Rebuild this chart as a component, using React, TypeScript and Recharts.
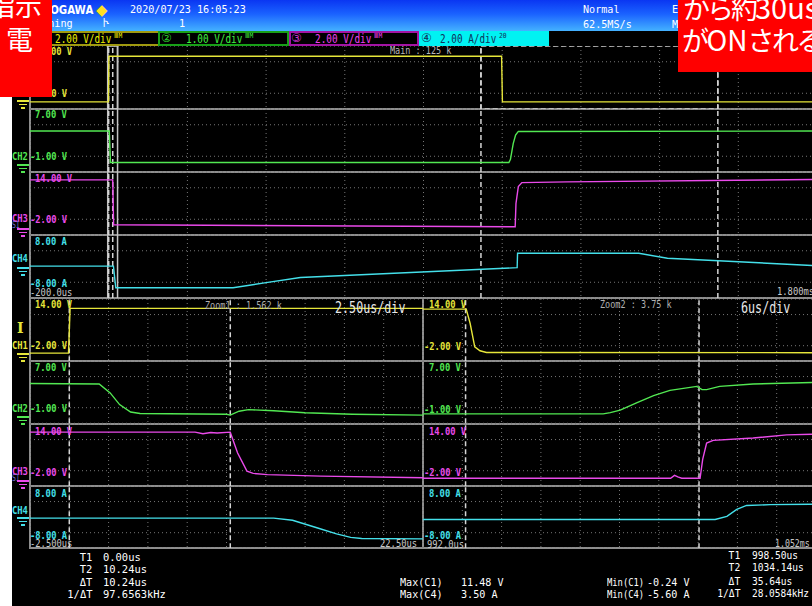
import React from 'react';
import { LineChart, Line, XAxis, YAxis, CartesianGrid, ReferenceLine, ReferenceArea } from 'recharts';

const MONO = '"DejaVu Sans Mono", "Liberation Mono", monospace';
const CJK = '"Noto Sans CJK JP", "Noto Sans", sans-serif';

// ---------- Main window (time in us) ----------
const mainT1 = [-200, -0.5, 0.5, 998.5, 1000.5, 1800];
const mainCh1 = [-0.2, -0.2, 11.4, 11.4, -0.2, -0.2];
const mainT2 = [-200, 1.5, 4.5, 1017, 1021, 1028, 1034, 1041, 1800];
const mainCh2 = [4.2, 4.2, 0.2, 0.2, 0.6, 2.6, 3.7, 4.15, 4.2];
const mainT3 = [-200, 10.2, 12.5, 500, 1033, 1035, 1041, 1050, 1165, 1800];
const mainCh3 = [12.0, 12.0, 0.6, 0.35, 0.1, 6, 10.3, 11.3, 11.5, 12.1];
const mainT4 = [-200, 12, 18, 316, 400, 487, 1038, 1039, 1347, 1420, 1800];
const mainCh4 = [0.1, 0.1, -5.4, -5.4, -4.1, -2.8, -0.3, 3.35, 3.35, 2.1, 0.2];

// ---------- Zoom1 window ----------
const z1T1 = [-2.5, -0.05, 0.05, 22.5];
const z1Ch1 = [0.1, 0.1, 11.6, 11.6];
const z1T2 = [-2.5, 1.9, 2.6, 3.2, 3.9, 4.5, 10.0, 10.24, 10.8, 11.4, 13, 15, 18, 22.5];
const z1Ch2 = [4.1, 4.05, 2.9, 1.4, 0.45, 0.25, 0.15, 0.05, 0.55, 0.75, 0.6, 0.35, 0.15, 0.05];
const z1T3 = [-2.5, 8.0, 8.5, 9.0, 9.4, 10.24, 10.7, 11.3, 11.7, 12.6, 16, 22.5];
const z1Ch3 = [11.9, 11.9, 11.5, 11.8, 11.7, 11.9, 6.6, 1.9, 1.3, 1.0, 0.6, 0.2];
const z1T4 = [-2.5, 13.0, 14.2, 15.8, 17.0, 17.9, 18.6, 22.5];
const z1Ch4 = [-0.25, -0.25, -0.8, -2.8, -4.3, -5.2, -5.5, -5.6];

// ---------- Zoom2 window ----------
const z2T1 = [992, 998.6, 999.2, 999.9, 1000.7, 1001.7, 1052];
const z2Ch1 = [11.4, 11.4, 7.7, 1.7, 0.7, 0.25, 0.2];
const z2T2 = [992, 1019.5, 1020.6, 1022.1, 1024.6, 1027.2, 1029.7, 1033.8, 1034.6, 1035.3, 1037.3, 1042.4, 1052];
const z2Ch2 = [0.2, 0.2, 0.36, 0.69, 1.63, 2.56, 3.23, 3.74, 3.32, 3.32, 3.74, 4.04, 4.25];
const z2T3 = [992, 1029.8, 1030.4, 1030.9, 1031.5, 1034.3, 1034.7, 1035.3, 1036.3, 1042.4, 1047.5, 1052];
const z2Ch3 = [0.05, 0.05, 0.8, 0.4, 0.05, 0.05, 4.9, 9.1, 9.8, 10.4, 11.2, 11.4];
const z2T4 = [992, 1036.6, 1038.4, 1039.9, 1041.4, 1045, 1052];
const z2Ch4 = [-0.6, -0.6, 0.2, 2.0, 3.0, 3.2, 3.3];

// ---------- axes ----------
const mainDomain = [-200, 1800];
const mainTicks = [0, 200, 400, 600, 800, 1000, 1200, 1400, 1600];
const z1Domain = [-2.5, 22.5];
const z1Ticks = [0, 2.5, 5, 7.5, 10, 12.5, 15, 17.5, 20];
const z2Domain = [992, 1052];
const z2Ticks = [998, 1004, 1010, 1016, 1022, 1028, 1034, 1040, 1046];

const ch1Ticks = [2, 6, 10];
const ch2Ticks = [1, 3, 5];
const ch3Ticks = [2, 6, 10];
const ch4Ticks = [-4, 0, 4];

const CHANNELS = [
  { id: 'CH1', color: '#e6e63a', range: [-2, 14], ticks: ch1Ticks },
  { id: 'CH2', color: '#52e852', range: [-1, 7], ticks: ch2Ticks },
  { id: 'CH3', color: '#ea4aea', range: [-2, 14], ticks: ch3Ticks },
  { id: 'CH4', color: '#44e0ea', range: [-8, 8], ticks: ch4Ticks },
];

const zip = (ts: number[], vs: number[]) => ts.map((t, i) => ({ t, v: vs[i] }));

const mainSeries = [zip(mainT1, mainCh1), zip(mainT2, mainCh2), zip(mainT3, mainCh3), zip(mainT4, mainCh4)];
const z1Series = [zip(z1T1, z1Ch1), zip(z1T2, z1Ch2), zip(z1T3, z1Ch3), zip(z1T4, z1Ch4)];
const z2Series = [zip(z2T1, z2Ch1), zip(z2T2, z2Ch2), zip(z2T3, z2Ch3), zip(z2T4, z2Ch4)];

// cursors
const mainSolid = [-2.5, 22.5];
const mainDashed = [0, 10.24, 946, 1548];
const z1Dashed = [0, 10.24];
const z2Dashed = [998.5, 1034.14];

type PanelProps = {
  left: number; top: number; width: number; height: number;
  domain: number[]; xTicks: number[]; series: { t: number; v: number }[][];
  solid?: number[]; dashed?: number[]; areas?: { x1: number; x2: number; dash: boolean }[];
};

function Panel({ left, top, width, height, domain, xTicks, series, solid = [], dashed = [], areas = [] }: PanelProps) {
  const rh = height / 4;
  return (
    <div style={{ position: 'absolute', left, top, width, height }}>
      {CHANNELS.map((ch, i) => (
        <div key={ch.id} style={{ position: 'absolute', left: 0, top: i * rh, width, height: rh }}>
          <LineChart width={width} height={rh} margin={{ top: 0, right: 0, bottom: 0, left: 0 }}>
            <CartesianGrid stroke="#767676" strokeWidth={1} strokeDasharray="1 3" />
            <XAxis type="number" dataKey="t" domain={domain} ticks={xTicks} hide allowDataOverflow />
            <YAxis type="number" dataKey="v" domain={ch.range} ticks={ch.ticks} hide allowDataOverflow />
            {i === 0 && areas.map((a) => (
              <ReferenceArea key={'a' + a.x1} x1={a.x1} x2={a.x2} fill="none" fillOpacity={0}
                stroke="#d0d0d0" strokeWidth={1.5} strokeDasharray={a.dash ? '5 3' : undefined} />
            ))}
            {solid.map((x) => <ReferenceLine key={'s' + x} x={x} stroke="#c4c4c4" strokeWidth={1.5} />)}
            {dashed.map((x) => <ReferenceLine key={'d' + x} x={x} stroke="#d4d4d4" strokeWidth={1.5} strokeDasharray="5 3" />)}
            <Line data={series[i]} dataKey="v" type="linear" stroke={ch.color} strokeWidth={1.4}
              dot={false} isAnimationActive={false} />
          </LineChart>
        </div>
      ))}
    </div>
  );
}

type TxtProps = { x: number; cy: number; children: React.ReactNode; color?: string; size?: number; sx?: number; right?: boolean; font?: string; bold?: boolean };
function Txt({ x, cy, children, color = '#fff', size = 11, sx = 0.8, right = false, font = MONO, bold = false }: TxtProps) {
  const pos: React.CSSProperties = right ? { right: 812 - x } : { left: x };
  return (
    <div style={{
      position: 'absolute', ...pos, top: cy - size * 0.5, fontFamily: font, fontSize: size,
      lineHeight: `${size}px`, color, whiteSpace: 'pre', transform: `scaleX(${sx})`,
      transformOrigin: right ? 'right center' : 'left center', fontWeight: bold ? 700 : 400,
    }}>{children}</div>
  );
}

function Ground({ x, y, color }: { x: number; y: number; color: string }) {
  return (
    <div style={{ position: 'absolute', left: x, top: y, width: 12, height: 9 }}>
      <div style={{ position: 'absolute', left: 0, top: 0, width: 12, height: 1.5, background: color }} />
      <div style={{ position: 'absolute', left: 2, top: 3.5, width: 8, height: 1.5, background: color }} />
      <div style={{ position: 'absolute', left: 4, top: 7, width: 4, height: 1.5, background: color }} />
    </div>
  );
}

const Y = '#e6e63a', G = '#52e852', M = '#ea4aea', C = '#44e0ea', GR = '#c8c8c8';

function HLine({ x, y, w, color = '#8e8e8e', h = 2 }: { x: number; y: number; w: number; color?: string; h?: number }) {
  return <div style={{ position: 'absolute', left: x, top: y, width: w, height: h, background: color }} />;
}
function VLine({ x, y, h, color = '#8e8e8e', w = 2 }: { x: number; y: number; h: number; color?: string; w?: number }) {
  return <div style={{ position: 'absolute', left: x, top: y, width: w, height: h, background: color }} />;
}

const redText: React.CSSProperties = {
  position: 'absolute', fontFamily: CJK, fontSize: 27, lineHeight: '27px', color: '#fff',
  whiteSpace: 'pre',
};

export default function App() {
  return (
    <div style={{ position: 'absolute', left: 0, top: 0, width: 812, height: 606, background: '#000', overflow: 'hidden' }}>
      {/* left white strip */}
      <div style={{ position: 'absolute', left: 0, top: 0, width: 12, height: 606, background: '#fff' }} />
      {/* top bar */}
      <div style={{ position: 'absolute', left: 0, top: 0, width: 812, height: 31, background: 'linear-gradient(to bottom, #0a36f2 0%, #1a62ff 45%, #44b2ff 100%)' }} />
      <Txt x={27} cy={10} size={12} sx={0.85} bold font={'"DejaVu Sans", sans-serif'}>YOKOGAWA</Txt>
      <Txt x={96} cy={10} size={15} sx={1} color="#ffe020" font={'"DejaVu Sans", sans-serif'}>◆</Txt>
      <Txt x={130} cy={9} size={11} sx={0.92}>2020/07/23 16:05:23</Txt>
      <Txt x={30} cy={23} size={11} sx={0.92}>Running</Txt>
      <Txt x={103} cy={23} size={11} sx={0.92}>Ⴡ</Txt>
      <Txt x={179} cy={23} size={11} sx={0.92}>1</Txt>
      <Txt x={583} cy={9} size={11} sx={0.92}>Normal</Txt>
      <Txt x={583} cy={24} size={11} sx={0.92}>62.5MS/s</Txt>
      <Txt x={672} cy={9} size={11} sx={0.92}>E</Txt>
      <Txt x={672} cy={24} size={11} sx={0.92}>M</Txt>

      {/* channel bar */}
      <div style={{ position: 'absolute', left: 0, top: 31, width: 812, height: 14, background: '#000' }} />
      <div style={{ position: 'absolute', left: -4, top: 31, width: 160, height: 11, border: '2px solid #a09a10' }} />
      <div style={{ position: 'absolute', left: 158, top: 31, width: 127, height: 11, border: '2px solid #18a018' }} />
      <div style={{ position: 'absolute', left: 289, top: 31, width: 126, height: 11, border: '2px solid #a414a4' }} />
      <div style={{ position: 'absolute', left: 419, top: 31, width: 130, height: 15, background: '#00f2f2' }} />
      <Txt x={55} cy={38} size={13} sx={0.72} color="#f0f000">2.00 V/div</Txt>
      <Txt x={114} cy={36} size={7} sx={0.9} color="#f0f000">ⅢM</Txt>
      <Txt x={161} cy={38} size={12} sx={1} color="#2ed02e" font={'"DejaVu Sans", sans-serif'}>②</Txt>
      <Txt x={186} cy={38} size={13} sx={0.72} color="#40f040">1.00 V/div</Txt>
      <Txt x={245} cy={36} size={7} sx={0.9} color="#40f040">ⅢM</Txt>
      <Txt x={291} cy={38} size={12} sx={1} color="#d030d0" font={'"DejaVu Sans", sans-serif'}>③</Txt>
      <Txt x={315} cy={38} size={13} sx={0.72} color="#f040f0">2.00 V/div</Txt>
      <Txt x={374} cy={36} size={7} sx={0.9} color="#f040f0">ⅢM</Txt>
      <Txt x={421} cy={38} size={12} sx={1} color="#10305a" font={'"DejaVu Sans", sans-serif'}>④</Txt>
      <Txt x={440} cy={38} size={13} sx={0.72} color="#10305a">2.00 A/div</Txt>
      <Txt x={499} cy={36} size={7} sx={0.9} color="#10305a">20</Txt>

      {/* separators */}
      <HLine x={30} y={108} w={790} />
      <HLine x={30} y={171} w={790} />
      <HLine x={30} y={234} w={790} />
      <HLine x={30} y={297} w={790} />
      <HLine x={30} y={360} w={790} />
      <HLine x={30} y={423} w={790} />
      <HLine x={30} y={485} w={790} />
      <HLine x={30} y={547} w={790} />
      <VLine x={29} y={46} h={503} />
      <VLine x={422} y={299} h={249} />

      {/* charts */}
      <Panel left={30} top={46} width={787} height={252} domain={mainDomain} xTicks={mainTicks}
        series={mainSeries} solid={mainSolid} dashed={mainDashed}
        areas={[{ x1: -2.5, x2: 22.5, dash: false }, { x1: 946, x2: 1548, dash: true }]} />
      <Panel left={30} top={299} width={393} height={249} domain={z1Domain} xTicks={z1Ticks}
        series={z1Series} dashed={z1Dashed} />
      <Panel left={423} top={299} width={393} height={249} domain={z2Domain} xTicks={z2Ticks}
        series={z2Series} dashed={z2Dashed} />

      {/* main labels */}
      <Txt x={35} cy={51} color={Y} bold>14.00 V</Txt>
      <Txt x={30} cy={93} color={Y} bold>-2.00 V</Txt>
      <Ground x={17} y={100} color={Y} />
      <Txt x={35} cy={114} color={G} bold>7.00 V</Txt>
      <Txt x={12} cy={156} color={G} bold>CH2</Txt>
      <Txt x={30} cy={156} color={G} bold>-1.00 V</Txt>
      <Ground x={17} y={164} color={G} />
      <Txt x={35} cy={178} color={M} bold>14.00 V</Txt>
      <Txt x={12} cy={218} color={M} bold>CH3</Txt>
      <Txt x={30} cy={219} color={M} bold>-2.00 V</Txt>
      <Txt x={12} cy={226} color="#7070d0" size={8}>S1</Txt>
      <Ground x={17} y={228} color={M} />
      <Txt x={35} cy={241} color={C} bold>8.00 A</Txt>
      <Txt x={12} cy={258} color={C} bold>CH4</Txt>
      <Ground x={17} y={267} color={C} />
      <Txt x={30} cy={283} color={C} bold>-8.00 A</Txt>
      <Txt x={30} cy={292} color={GR}>-200.0us</Txt>
      <Txt x={777} cy={291} color={GR}>1.800ms</Txt>
      <Txt x={390} cy={51} color="#b8b8b8" size={10} sx={0.85}>Main : 125 k</Txt>

      {/* zoom1 labels */}
      <Txt x={35} cy={304} color={Y} bold>14.00 V</Txt>
      <Txt x={17} cy={328} color={Y} size={14} sx={1} bold font={'"DejaVu Serif", serif'}>I</Txt>
      <Txt x={12} cy={345} color={Y} bold>CH1</Txt>
      <Txt x={30} cy={345} color={Y} bold>-2.00 V</Txt>
      <Ground x={17} y={353} color={Y} />
      <Txt x={35} cy={367} color={G} bold>7.00 V</Txt>
      <Txt x={12} cy={408} color={G} bold>CH2</Txt>
      <Txt x={30} cy={408} color={G} bold>-1.00 V</Txt>
      <Ground x={17} y={416} color={G} />
      <Txt x={35} cy={431} color={M} bold>14.00 V</Txt>
      <Txt x={12} cy={471} color={M} bold>CH3</Txt>
      <Txt x={30} cy={472} color={M} bold>-2.00 V</Txt>
      <Txt x={12} cy={479} color="#7070d0" size={8}>S1</Txt>
      <Ground x={17} y={480} color={M} />
      <Txt x={35} cy={493} color={C} bold>8.00 A</Txt>
      <Txt x={12} cy={510} color={C} bold>CH4</Txt>
      <Ground x={17} y={517} color={C} />
      <Txt x={30} cy={535} color={C} bold>-8.00 A</Txt>
      <Txt x={30} cy={543} color={GR}>-2.500us</Txt>
      <Txt x={380} cy={543} color={GR}>22.50us</Txt>
      <Txt x={205} cy={306} color="#b0b0b0" size={10} sx={0.85}>Zoom1 : 1.562 k</Txt>
      <Txt x={335} cy={308} color="#e8e8e8" size={15} sx={0.78}>2.50us/div</Txt>

      {/* zoom2 labels */}
      <Txt x={429} cy={304} color={Y} bold>14.00 V</Txt>
      <Txt x={424} cy={346} color={Y} bold>-2.00 V</Txt>
      <Txt x={429} cy={367} color={G} bold>7.00 V</Txt>
      <Txt x={424} cy={409} color={G} bold>-1.00 V</Txt>
      <Txt x={429} cy={431} color={M} bold>14.00 V</Txt>
      <Txt x={424} cy={472} color={M} bold>-2.00 V</Txt>
      <Txt x={429} cy={493} color={C} bold>8.00 A</Txt>
      <Txt x={424} cy={535} color={C} bold>-8.00 A</Txt>
      <Txt x={427} cy={544} color={GR}>992.0us</Txt>
      <Txt x={775} cy={543} color={GR} sx={0.75}>1.052ms</Txt>
      <Txt x={600} cy={305} color="#b0b0b0" size={10} sx={0.85}>Zoom2 : 3.75 k</Txt>
      <Txt x={741} cy={308} color="#e8e8e8" size={15} sx={0.78}>6us/div</Txt>

      {/* measurements */}
      <Txt x={92} cy={557} right sx={0.95}>T1</Txt>
      <Txt x={92} cy={569} right sx={0.95}>T2</Txt>
      <Txt x={92} cy={582} right sx={0.95}>ΔT</Txt>
      <Txt x={92} cy={594} right sx={0.95}>1/ΔT</Txt>
      <Txt x={103} cy={557} sx={0.95}>0.00us</Txt>
      <Txt x={103} cy={569} sx={0.95}>10.24us</Txt>
      <Txt x={103} cy={582} sx={0.95}>10.24us</Txt>
      <Txt x={103} cy={594} sx={0.95}>97.6563kHz</Txt>
      <Txt x={400} cy={582} sx={0.92}>Max(C1)</Txt>
      <Txt x={400} cy={594} sx={0.92}>Max(C4)</Txt>
      <Txt x={461} cy={582} sx={0.92}>11.48 V</Txt>
      <Txt x={461} cy={594} sx={0.92}>3.50 A</Txt>
      <Txt x={607} cy={582} sx={0.8}>Min(C1)</Txt>
      <Txt x={607} cy={594} sx={0.8}>Min(C4)</Txt>
      <Txt x={647} cy={582} sx={0.92}>-0.24 V</Txt>
      <Txt x={647} cy={594} sx={0.92}>-5.60 A</Txt>
      <Txt x={740} cy={555} right sx={0.88}>T1</Txt>
      <Txt x={740} cy={567} right sx={0.88}>T2</Txt>
      <Txt x={740} cy={581} right sx={0.88}>ΔT</Txt>
      <Txt x={740} cy={593} right sx={0.88}>1/ΔT</Txt>
      <Txt x={752} cy={555} sx={0.87}>998.50us</Txt>
      <Txt x={752} cy={567} sx={0.87}>1034.14us</Txt>
      <Txt x={752} cy={581} sx={0.87}>35.64us</Txt>
      <Txt x={752} cy={593} sx={0.86}>28.0584kHz</Txt>

      {/* red annotation boxes */}
      <div style={{ position: 'absolute', left: 0, top: 0, width: 52, height: 97, background: '#ff0000', overflow: 'hidden' }}>
        <div style={{ ...redText, left: -12, top: -9 }}>指示</div>
        <div style={{ ...redText, left: 6, top: 25 }}>電</div>
      </div>
      <div style={{ position: 'absolute', left: 678, top: 0, width: 134, height: 72, background: '#ff0000', overflow: 'hidden' }}>
        <div style={{ ...redText, left: 5, top: -7 }}>
          <span style={{ letterSpacing: -3 }}>から約</span><span style={{ fontSize: 29 }}>30us</span>
        </div>
        <div style={{ ...redText, left: 4, top: 26 }}>
          <span style={{ letterSpacing: -2.5 }}>が</span><span style={{ fontSize: 28 }}>ON</span><span style={{ letterSpacing: -2.5 }}>される</span>
        </div>
      </div>
    </div>
  );
}
